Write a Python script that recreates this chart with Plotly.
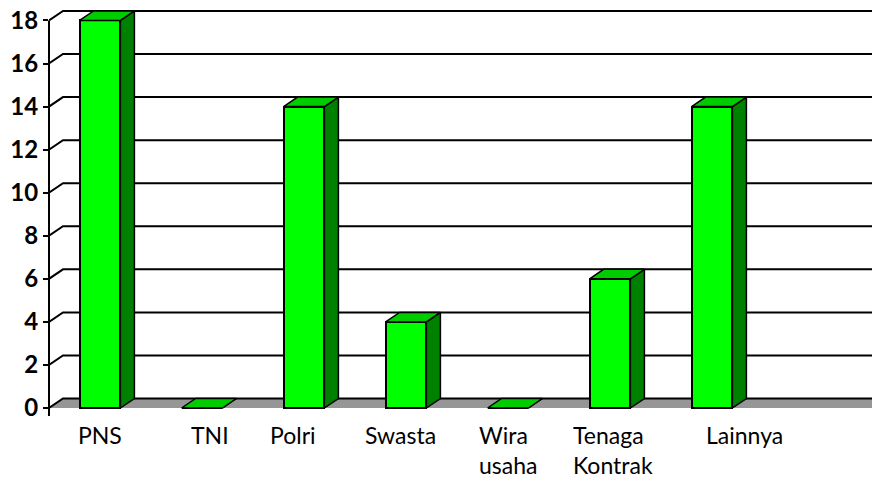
import plotly.graph_objects as go

# ---------------- data ----------------
categories = ["PNS", "TNI", "Polri", "Swasta", "Wira usaha", "Tenaga Kontrak", "Lainnya"]
values = [18, 0, 14, 4, 0, 6, 14]
label_text = ["PNS", "TNI", "Polri", "Swasta", "Wira<br>usaha", "Tenaga<br>Kontrak", "Lainnya"]
y_ticks = [0, 2, 4, 6, 8, 10, 12, 14, 16, 18]
n_slots = 8  # one empty slot to the right

# ---------------- geometry / style ----------------
W, H = 872, 484
ML = 49                 # left margin (front value axis)
PX_PER_CAT = 102
PX_PER_UNIT = 21.53
Y0_PX = 408             # pixel row of value 0 on the front plane
PLOT_BOTTOM = 416
DX_PX, DY_PX = 14, 9.5  # oblique depth offset
BAR_W = 0.4
label_xshift = [0, 8, -11, -6, 0, 3, 32]

FRONT = "#00FF00"
SIDE = "#008000"
TOP = "#00CC00"
FLOOR = "#969696"

dx = DX_PX / PX_PER_CAT
dy = DY_PX / PX_PER_UNIT
x_min = -0.5
x_max = x_min + (W - ML) / PX_PER_CAT
y_min = -(PLOT_BOTTOM - Y0_PX) / PX_PER_UNIT
y_max = Y0_PX / PX_PER_UNIT
x_far = x_max + 1

xs_idx = list(range(len(categories)))

fig = go.Figure()

# floor (main axes, drawn underneath)
fig.add_trace(go.Scatter(
    x=[x_min, x_far, x_far, x_min + dx, x_min],
    y=[0, 0, dy, dy, 0],
    mode="lines", fill="toself", fillcolor=FLOOR,
    line=dict(width=0), hoverinfo="skip", showlegend=False))

# back-wall gridlines with diagonal connectors
gx, gy = [], []
for v in y_ticks:
    gx += [x_min, x_min + dx, x_far, None]
    gy += [v, v + dy, v + dy, None]
fig.add_trace(go.Scatter(x=gx, y=gy, mode="lines",
                         line=dict(color="black", width=2),
                         hoverinfo="skip", showlegend=False))

# front faces (overlay axes, drawn on top of the wall)
fig.add_trace(go.Bar(x=xs_idx, y=values, width=BAR_W, xaxis="x2", yaxis="y2",
                     marker=dict(color=FRONT, line=dict(color="black", width=2)),
                     showlegend=False, hovertext=categories))

# side faces
sx, sy = [], []
for i, v in zip(xs_idx, values):
    r = i + BAR_W / 2
    sx += [r, r, r + dx, r + dx, r, None]
    sy += [0, v, v + dy, dy, 0, None]
fig.add_trace(go.Scatter(x=sx, y=sy, mode="lines", fill="toself", xaxis="x2", yaxis="y2",
                         fillcolor=SIDE, line=dict(color="black", width=1.5),
                         hoverinfo="skip", showlegend=False))

# top faces
tx, ty = [], []
for i, v in zip(xs_idx, values):
    l, r = i - BAR_W / 2, i + BAR_W / 2
    tx += [l, r, r + dx, l + dx, l, None]
    ty += [v, v, v + dy, v + dy, v, None]
fig.add_trace(go.Scatter(x=tx, y=ty, mode="lines", fill="toself", xaxis="x2", yaxis="y2",
                         fillcolor=TOP, line=dict(color="black", width=1.5),
                         hoverinfo="skip", showlegend=False))

# category labels
for i, (t, sh) in enumerate(zip(label_text, label_xshift)):
    fig.add_annotation(x=i, xref="x", y=0, yref="paper", yanchor="top",
                       xanchor="center", align="left", xshift=sh, yshift=-3,
                       text=t, showarrow=False,
                       font=dict(family="Lato", size=23, color="black"))

# front value axis line
fig.add_shape(type="line", xref="paper", x0=0, x1=0, yref="y",
              y0=y_min, y1=y_ticks[-1], line=dict(color="black", width=2))

hidden = dict(showgrid=False, zeroline=False, showticklabels=False,
              showline=False, ticks="", fixedrange=True)

fig.update_layout(
    width=W, height=H,
    margin=dict(l=ML, r=0, t=0, b=H - PLOT_BOTTOM, pad=0),
    paper_bgcolor="white", plot_bgcolor="white",
    bargap=0, showlegend=False,
    xaxis=dict(range=[x_min, x_max], **hidden),
    xaxis2=dict(range=[x_min, x_max], overlaying="x", **hidden),
    yaxis=dict(range=[y_min, y_max], tickvals=y_ticks, showgrid=False,
               zeroline=False, showline=False, ticks="outside", ticklen=5,
               tickwidth=2, tickcolor="black", fixedrange=True,
               tickfont=dict(family="Lato", size=24, color="black", weight="bold")),
    yaxis2=dict(range=[y_min, y_max], overlaying="y", anchor="x2", **hidden),
)

fig.write_html("out.html", config={"displayModeBar": False},
               post_script="document.body.style.margin='0';")
